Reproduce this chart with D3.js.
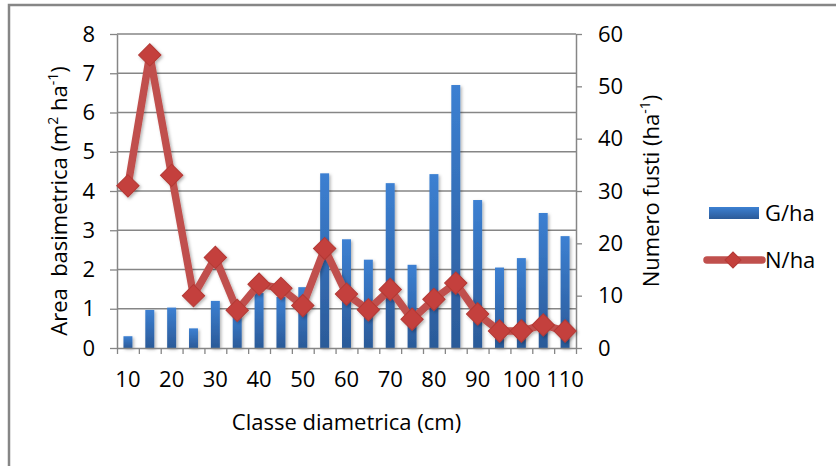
<!DOCTYPE html>
<html>
<head>
<meta charset="utf-8">
<script src="https://cdn.jsdelivr.net/npm/d3@7"></script>
<style>
  body { margin: 0; background: #fff; }
  svg text { font-family: "Open Sans", Lato, sans-serif; fill: #000; }
</style>
</head>
<body>
<svg id="chart" width="836" height="466"></svg>
<script>
// diameter classes (cm)
var classes = [10, 15, 20, 25, 30, 35, 40, 45, 50, 55, 60, 65, 70, 75, 80, 85, 90, 95, 100, 105, 110];
// basal area G/ha (m2 ha-1), left axis
var gHa = [0.3, 0.97, 1.03, 0.5, 1.2, 0.9, 1.4, 1.3, 1.55, 4.45, 2.77, 2.25, 4.2, 2.12, 4.43, 6.7, 3.77, 2.05, 2.29, 3.44, 2.85];
// stems N/ha, right axis
var nHa = [31, 56, 33, 10, 17.3, 7.2, 12.2, 11.4, 8.1, 19, 10.3, 7.3, 11.2, 5.5, 9.3, 12.4, 6.5, 3.25, 3.25, 4.4, 3.25];
var xLabels = [10, 20, 30, 40, 50, 60, 70, 80, 90, 100, 110];
var leftTicks = [0, 1, 2, 3, 4, 5, 6, 7, 8];
var rightTicks = [0, 10, 20, 30, 40, 50, 60];

var svg = d3.select("#chart");
var m = {left: 117, right: 576, top: 34, bottom: 348};
var axisColor = "#868686";
var fs = 22;

var defs = svg.append("defs");
var grad = defs.append("linearGradient").attr("id", "barGrad")
    .attr("x1", 0).attr("y1", 0).attr("x2", 0).attr("y2", 1);
grad.append("stop").attr("offset", "0%").attr("stop-color", "#3C80D2");
grad.append("stop").attr("offset", "100%").attr("stop-color", "#2B5A98");

var shadow = defs.append("filter").attr("id", "shadow")
    .attr("x", "-50%").attr("y", "-50%").attr("width", "200%").attr("height", "200%");
shadow.append("feDropShadow").attr("dx", 1.5).attr("dy", 1.5)
    .attr("stdDeviation", 1.5).attr("flood-color", "#000").attr("flood-opacity", 0.3);

// outer chart border (only top and left visible in the picture)
svg.append("rect").attr("x", 9).attr("y", 5).attr("width", 900).attr("height", 600)
    .attr("fill", "none").attr("stroke", axisColor).attr("stroke-width", 2.5);

var x = d3.scaleBand().domain(classes).range([m.left, m.right])
    .paddingInner(0.59).paddingOuter(0.295);
var xEdge = d3.scaleLinear().domain([0, classes.length]).range([m.left, m.right]);
var yL = d3.scaleLinear().domain([0, 8]).range([m.bottom, m.top]);
var yR = d3.scaleLinear().domain([0, 60]).range([m.bottom, m.top]);

// gridlines
svg.append("g").selectAll("line").data(leftTicks.slice(1)).join("line")
    .attr("x1", m.left).attr("x2", m.right)
    .attr("y1", d => yL(d)).attr("y2", d => yL(d))
    .attr("stroke", axisColor).attr("stroke-width", 1.3);

// bars
svg.append("g").attr("filter", "url(#shadow)")
  .selectAll("rect").data(classes).join("rect")
    .attr("x", d => x(d))
    .attr("width", x.bandwidth())
    .attr("y", (d, i) => yL(gHa[i]))
    .attr("height", (d, i) => yL(0) - yL(gHa[i]))
    .attr("fill", "url(#barGrad)");

// axes
function styleAxis(g) {
  g.selectAll(".domain").attr("stroke", axisColor).attr("stroke-width", 1.5);
  g.selectAll(".tick line").attr("stroke", axisColor).attr("stroke-width", 1.3);
  g.selectAll("text").attr("font-size", fs).attr("font-family", "'Open Sans', sans-serif");
}

svg.append("g").attr("transform", "translate(" + m.left + ",0)")
    .call(d3.axisLeft(yL).tickValues(leftTicks).tickSize(7).tickPadding(15).tickSizeOuter(0))
    .call(styleAxis);

svg.append("g").attr("transform", "translate(" + m.right + ",0)")
    .call(d3.axisRight(yR).tickValues(rightTicks).tickSize(6).tickPadding(16).tickSizeOuter(0))
    .call(styleAxis);

svg.append("g").attr("transform", "translate(0," + m.bottom + ")")
    .call(d3.axisBottom(xEdge).tickValues(d3.range(classes.length + 1)).tickFormat("").tickSize(6).tickSizeOuter(0))
    .call(styleAxis);

svg.append("g").attr("transform", "translate(0," + m.bottom + ")")
    .call(d3.axisBottom(x).tickValues(xLabels).tickSize(0).tickPadding(23))
    .call(styleAxis)
    .call(g => g.select(".domain").remove());

// N/ha line
var line = d3.line().x((d, i) => x(classes[i]) + x.bandwidth() / 2).y(d => yR(d));
var lineG = svg.append("g").attr("filter", "url(#shadow)");
lineG.append("path").datum(nHa).attr("d", line)
    .attr("fill", "none").attr("stroke", "#C0504D").attr("stroke-width", 7.5)
    .attr("stroke-linejoin", "round");
var diamond = d3.symbol().type(d3.symbolSquare).size(250);
lineG.selectAll("path.mk").data(nHa).join("path").attr("class", "mk")
    .attr("d", diamond)
    .attr("transform", (d, i) => "translate(" + (x(classes[i]) + x.bandwidth() / 2) + "," + yR(d) + ") rotate(45)")
    .attr("fill", "#C4403C").attr("stroke", "#B33935").attr("stroke-width", 1);

// axis titles
svg.append("text").attr("x", (m.left + m.right) / 2).attr("y", 430)
    .attr("text-anchor", "middle").attr("font-size", fs)
    .text("Classe diametrica (cm)");

var lt = svg.append("text").attr("transform", "translate(67,201) rotate(-90)")
    .attr("text-anchor", "middle").attr("font-size", fs).style("white-space", "pre");
lt.append("tspan").text("Area  basimetrica (m");
lt.append("tspan").attr("dy", -9).attr("font-size", 14).text("2");
lt.append("tspan").attr("dy", 9).text(" ha");
lt.append("tspan").attr("dy", -9).attr("font-size", 14).text("-1");
lt.append("tspan").attr("dy", 9).text(")");

var rt = svg.append("text").attr("transform", "translate(659,191) rotate(-90)")
    .attr("text-anchor", "middle").attr("font-size", fs);
rt.append("tspan").text("Numero fusti (ha");
rt.append("tspan").attr("dy", -9).attr("font-size", 14).text("-1");
rt.append("tspan").attr("dy", 9).text(")");

// legend
var lg = svg.append("g");
lg.append("rect").attr("x", 709).attr("y", 207).attr("width", 50).attr("height", 12)
    .attr("fill", "url(#barGrad)");
lg.append("text").attr("x", 765).attr("y", 221).attr("font-size", fs).text("G/ha");
lg.append("line").attr("x1", 707).attr("x2", 762).attr("y1", 260).attr("y2", 260)
    .attr("stroke", "#C0504D").attr("stroke-width", 7.5).attr("stroke-linecap", "round");
lg.append("path").attr("d", d3.symbol().type(d3.symbolSquare).size(130))
    .attr("transform", "translate(733,260) rotate(45)")
    .attr("fill", "#C4403C").attr("stroke", "#B33935");
lg.append("text").attr("x", 765).attr("y", 268).attr("font-size", fs).text("N/ha");
</script>
</body>
</html>
